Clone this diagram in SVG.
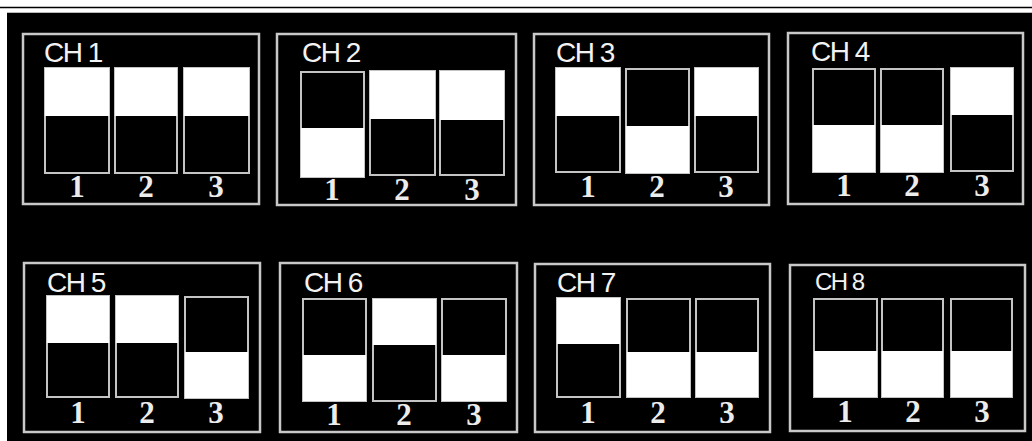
<svg xmlns="http://www.w3.org/2000/svg" width="1032" height="441" viewBox="0 0 1032 441">
<style>
.frame{fill:#000;stroke:#c8c8c8;stroke-width:2.5}
.sw{fill:#000;stroke:#c4c4c4;stroke-width:2}
.on{fill:#fff}
.lbl{font-family:"Liberation Sans",Arial,sans-serif;font-size:28px;fill:#f2f2f2;letter-spacing:-1.5px}
.num{font-family:"Liberation Serif","Times New Roman",serif;font-weight:bold;font-size:31px;fill:#ececec;text-anchor:middle}
</style>
<rect x="0" y="0" width="1032" height="441" fill="#fff"/>
<line x1="0" y1="7.5" x2="1032" y2="7.5" stroke="#000" stroke-width="1.5"/>
<rect x="7" y="12" width="1025" height="429" fill="#000"/>
<line x1="7" y1="12.5" x2="1032" y2="12.5" stroke="#bbb" stroke-width="1"/>

<g id="ch1">
<rect class="frame" x="23" y="34" width="236" height="170"/>
<text class="lbl" x="44" y="62">CH 1</text>
<rect class="sw" x="45" y="68" width="64" height="105"/><rect class="on" x="45" y="68" width="64" height="48"/>
<rect class="sw" x="115" y="68" width="62" height="105"/><rect class="on" x="115" y="68" width="62" height="48"/>
<rect class="sw" x="184" y="68" width="65" height="105"/><rect class="on" x="184" y="68" width="65" height="48"/>
<text class="num" x="77" y="197">1</text><text class="num" x="146" y="197">2</text><text class="num" x="216" y="197">3</text>
</g>

<g id="ch2">
<rect class="frame" x="277" y="34" width="239" height="171"/>
<text class="lbl" x="302" y="62">CH 2</text>
<rect class="sw" x="301" y="72" width="63" height="105"/><rect class="on" x="301" y="128" width="63" height="49"/>
<rect class="sw" x="370" y="71" width="65" height="104"/><rect class="on" x="370" y="71" width="65" height="48"/>
<rect class="sw" x="440" y="71" width="64" height="104"/><rect class="on" x="440" y="71" width="64" height="49"/>
<text class="num" x="332" y="200">1</text><text class="num" x="402" y="200">2</text><text class="num" x="472" y="200">3</text>
</g>

<g id="ch3">
<rect class="frame" x="534" y="34" width="235" height="171"/>
<text class="lbl" x="556" y="62">CH 3</text>
<rect class="sw" x="556" y="68" width="64" height="104"/><rect class="on" x="556" y="68" width="64" height="48"/>
<rect class="sw" x="626" y="69" width="63" height="104"/><rect class="on" x="626" y="126" width="63" height="47"/>
<rect class="sw" x="695" y="68" width="63" height="104"/><rect class="on" x="695" y="68" width="63" height="48"/>
<text class="num" x="588" y="197">1</text><text class="num" x="657" y="197">2</text><text class="num" x="726" y="197">3</text>
</g>

<g id="ch4">
<rect class="frame" x="788" y="33" width="235" height="171"/>
<text class="lbl" x="811" y="61">CH 4</text>
<rect class="sw" x="813" y="69" width="62" height="103"/><rect class="on" x="813" y="125" width="62" height="47"/>
<rect class="sw" x="881" y="69" width="62" height="103"/><rect class="on" x="881" y="125" width="62" height="47"/>
<rect class="sw" x="951" y="68" width="62" height="103"/><rect class="on" x="951" y="68" width="62" height="47"/>
<text class="num" x="844" y="196">1</text><text class="num" x="912" y="196">2</text><text class="num" x="982" y="196">3</text>
</g>

<g id="ch5">
<rect class="frame" x="24" y="263" width="236" height="169"/>
<text class="lbl" x="47" y="292">CH 5</text>
<rect class="sw" x="47" y="296" width="62" height="101"/><rect class="on" x="47" y="296" width="62" height="47"/>
<rect class="sw" x="116" y="296" width="62" height="101"/><rect class="on" x="116" y="296" width="62" height="47"/>
<rect class="sw" x="185" y="297" width="63" height="101"/><rect class="on" x="185" y="352" width="63" height="46"/>
<text class="num" x="78" y="423">1</text><text class="num" x="147" y="423">2</text><text class="num" x="216" y="423">3</text>
</g>

<g id="ch6">
<rect class="frame" x="280" y="263" width="237" height="169"/>
<text class="lbl" x="304" y="292">CH 6</text>
<rect class="sw" x="303" y="299" width="63" height="102"/><rect class="on" x="303" y="355" width="63" height="46"/>
<rect class="sw" x="373" y="299" width="63" height="102"/><rect class="on" x="373" y="299" width="63" height="46"/>
<rect class="sw" x="442" y="299" width="64" height="102"/><rect class="on" x="442" y="355" width="64" height="46"/>
<text class="num" x="334" y="425">1</text><text class="num" x="404" y="425">2</text><text class="num" x="474" y="425">3</text>
</g>

<g id="ch7">
<rect class="frame" x="535" y="264" width="235" height="168"/>
<text class="lbl" x="557" y="292">CH 7</text>
<rect class="sw" x="557" y="298" width="63" height="99"/><rect class="on" x="557" y="298" width="63" height="46"/>
<rect class="sw" x="627" y="299" width="63" height="98"/><rect class="on" x="627" y="352" width="63" height="45"/>
<rect class="sw" x="696" y="299" width="62" height="98"/><rect class="on" x="696" y="352" width="62" height="45"/>
<text class="num" x="588" y="423">1</text><text class="num" x="658" y="423">2</text><text class="num" x="727" y="423">3</text>
</g>

<g id="ch8">
<rect class="frame" x="790" y="265" width="235" height="166"/>
<text class="lbl" x="815" y="290" style="font-size:24px">CH 8</text>
<rect class="sw" x="814" y="299" width="63" height="98"/><rect class="on" x="814" y="351" width="63" height="46"/>
<rect class="sw" x="882" y="299" width="61" height="98"/><rect class="on" x="882" y="351" width="61" height="46"/>
<rect class="sw" x="951" y="299" width="61" height="98"/><rect class="on" x="951" y="351" width="61" height="46"/>
<text class="num" x="845" y="422">1</text><text class="num" x="913" y="422">2</text><text class="num" x="982" y="422">3</text>
</g>
<g id="connectors"/>
</svg>
